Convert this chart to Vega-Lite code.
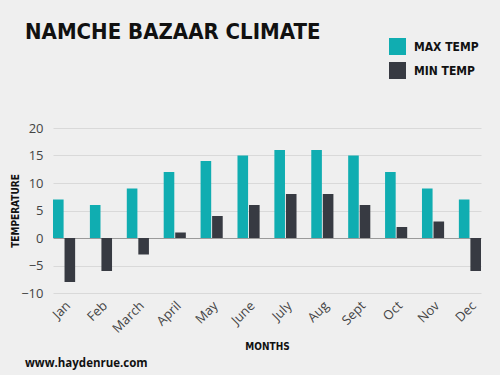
{
  "$schema": "https://vega.github.io/schema/vega-lite/v6.json",
  "width": 430,
  "height": 165,
  "autosize": "none",
  "padding": {"left": 52, "top": 128, "right": 18, "bottom": 82},
  "background": "#efefef",
  "title": {
    "text": "NAMCHE BAZAAR CLIMATE",
    "subtitle": "www.haydenrue.com",
    "anchor": "start",
    "frame": "group",
    "orient": "top",
    "dx": -27,
    "offset": -332,
    "font": "DejaVu Sans Condensed",
    "fontWeight": "bold",
    "fontSize": 22,
    "color": "#111111",
    "subtitleFont": "Open Sans",
    "subtitleFontWeight": "bold",
    "subtitleFontSize": 11.5,
    "subtitleColor": "#111111",
    "subtitlePadding": 314
  },
  "data": {
    "values": [
      {"month": "Jan", "type": "MAX TEMP", "temp": 7},
      {"month": "Jan", "type": "MIN TEMP", "temp": -8},
      {"month": "Feb", "type": "MAX TEMP", "temp": 6},
      {"month": "Feb", "type": "MIN TEMP", "temp": -6},
      {"month": "March", "type": "MAX TEMP", "temp": 9},
      {"month": "March", "type": "MIN TEMP", "temp": -3},
      {"month": "April", "type": "MAX TEMP", "temp": 12},
      {"month": "April", "type": "MIN TEMP", "temp": 1},
      {"month": "May", "type": "MAX TEMP", "temp": 14},
      {"month": "May", "type": "MIN TEMP", "temp": 4},
      {"month": "June", "type": "MAX TEMP", "temp": 15},
      {"month": "June", "type": "MIN TEMP", "temp": 6},
      {"month": "July", "type": "MAX TEMP", "temp": 16},
      {"month": "July", "type": "MIN TEMP", "temp": 8},
      {"month": "Aug", "type": "MAX TEMP", "temp": 16},
      {"month": "Aug", "type": "MIN TEMP", "temp": 8},
      {"month": "Sept", "type": "MAX TEMP", "temp": 15},
      {"month": "Sept", "type": "MIN TEMP", "temp": 6},
      {"month": "Oct", "type": "MAX TEMP", "temp": 12},
      {"month": "Oct", "type": "MIN TEMP", "temp": 2},
      {"month": "Nov", "type": "MAX TEMP", "temp": 9},
      {"month": "Nov", "type": "MIN TEMP", "temp": 3},
      {"month": "Dec", "type": "MAX TEMP", "temp": 7},
      {"month": "Dec", "type": "MIN TEMP", "temp": -6}
    ]
  },
  "mark": {"type": "bar"},
  "encoding": {
    "x": {
      "field": "month",
      "type": "nominal",
      "sort": ["Jan", "Feb", "March", "April", "May", "June", "July", "Aug", "Sept", "Oct", "Nov", "Dec"],
      "scale": {"range": [1, 429], "paddingInner": 0.4, "paddingOuter": 0},
      "axis": {
        "title": "MONTHS",
        "titleFont": "DejaVu Sans Condensed",
        "titleFontWeight": "bold",
        "titleFontSize": 10,
        "titleColor": "#111111",
        "titlePadding": 6,
        "labelAngle": -45,
        "labelFont": "Open Sans",
        "labelFontSize": 13,
        "labelColor": "#444444",
        "labelPadding": 6,
        "domain": false,
        "ticks": false,
        "grid": false
      }
    },
    "xOffset": {
      "field": "type",
      "type": "nominal",
      "scale": {"paddingInner": 0.08, "paddingOuter": 0}
    },
    "y": {
      "field": "temp",
      "type": "quantitative",
      "scale": {"domain": [-10, 20], "nice": false},
      "axis": {
        "title": "TEMPERATURE",
        "titleFont": "DejaVu Sans Condensed",
        "titleFontWeight": "bold",
        "titleFontSize": 10,
        "titleColor": "#111111",
        "titlePadding": 0,
        "values": [-10, -5, 0, 5, 10, 15, 20],
        "labelFont": "Open Sans",
        "labelFontSize": 13,
        "labelColor": "#444444",
        "labelPadding": 9,
        "domain": false,
        "ticks": false,
        "gridColor": {"condition": {"test": "datum.value === 0", "value": "#9a9a9a"}, "value": "#d9d9d9"},
        "gridWidth": 1
      }
    },
    "color": {
      "field": "type",
      "type": "nominal",
      "scale": {"domain": ["MAX TEMP", "MIN TEMP"], "range": ["#10adb1", "#373a42"]},
      "legend": {
        "title": null,
        "orient": "none",
        "legendX": 337,
        "legendY": -90,
        "symbolType": "square",
        "symbolSize": 289,
        "symbolStrokeWidth": 0,
        "symbolOpacity": 1,
        "rowPadding": 7,
        "labelOffset": 8,
        "labelFont": "DejaVu Sans Condensed",
        "labelFontWeight": "bold",
        "labelFontSize": 12,
        "labelColor": "#111111"
      }
    }
  },
  "config": {
    "view": {"stroke": null}
  }
}
